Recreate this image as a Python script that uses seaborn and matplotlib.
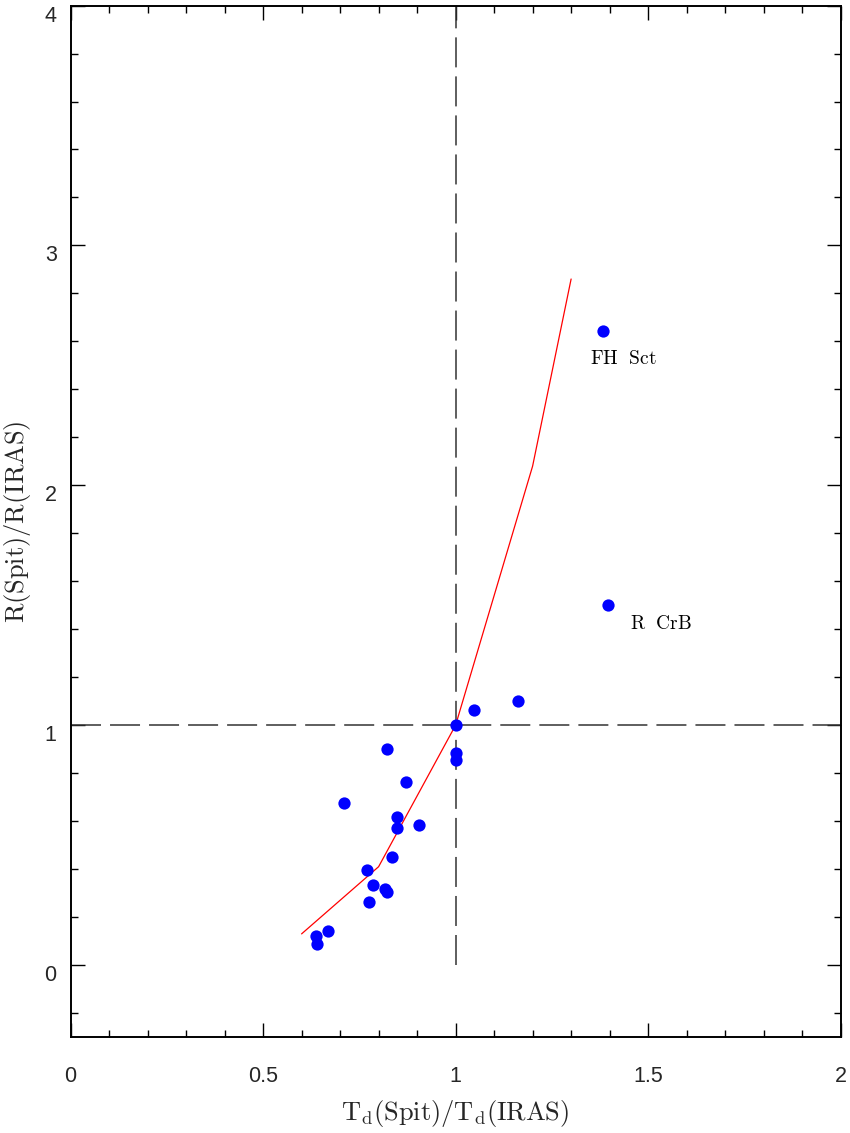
import matplotlib
matplotlib.use("Agg")
import matplotlib.pyplot as plt
import matplotlib.transforms as mtransforms
from matplotlib.ticker import MultipleLocator
import numpy as np
import pandas as pd
import seaborn as sns

# Dust temperature ratio vs. radius ratio (Spitzer / IRAS)
td_ratio = [1.000, 1.048, 0.823, 1.000, 1.000, 0.871, 0.711, 0.848, 0.847,
            0.905, 0.835, 0.769, 0.785, 0.817, 0.821, 0.776, 0.669, 0.637,
            0.640, 1.383, 1.397, 1.161]
r_ratio = [1.000, 1.064, 0.899, 0.882, 0.856, 0.762, 0.677, 0.618, 0.573,
           0.583, 0.451, 0.395, 0.333, 0.318, 0.305, 0.262, 0.142, 0.121,
           0.089, 2.642, 1.500, 1.102]

# Model relation
model_td = [0.60, 0.80, 1.00, 1.20, 1.30]
model_r = [0.13, 0.41, 1.00, 2.08, 2.86]

# Named objects
star_names = ["FH Sct", "R CrB"]
star_label_x = [1.350, 1.452]
star_label_y = [2.525, 1.423]

ref_td = 1.0
ref_r = 1.0

sns.set_style("ticks")
plt.rcParams["font.family"] = ["Liberation Sans", "DejaVu Sans"]
plt.rcParams["mathtext.fontset"] = "cm"
plt.rcParams["lines.scale_dashes"] = False

fig = plt.figure(figsize=(8.5, 11.33), dpi=100)
ax = fig.add_axes([0.083, 0.0847, 0.906, 0.9104])

points = pd.DataFrame({"td": td_ratio, "r": r_ratio})
model = pd.DataFrame({"td": model_td, "r": model_r})

# Reference lines at unity
dash = (21.6, 6.5)
ax.vlines(ref_td, 0, 4, colors="#333333", linewidth=1.1, linestyles=[(0, dash)], zorder=1)
ax.hlines(ref_r, 0, 2, colors="#333333", linewidth=1.1, linestyles=[(0, dash)], zorder=1)

sns.lineplot(data=model, x="td", y="r", sort=False, estimator=None,
             color="#ff0000", linewidth=0.9, ax=ax, zorder=2)
sns.scatterplot(data=points, x="td", y="r", color="#0000ff", s=78,
                linewidth=0, ax=ax, zorder=3)

for name, lx, ly in zip(star_names, star_label_x, star_label_y):
    ax.text(lx, ly, r"$\mathrm{" + name.replace(" ", r"\ \ ") + "}$",
            fontsize=14, ha="left", va="center", color="black")

ax.set_xlim(0, 2)
ax.set_ylim(-0.3, 4)

ax.xaxis.set_major_locator(MultipleLocator(0.5))
ax.xaxis.set_minor_locator(MultipleLocator(0.1))
ax.yaxis.set_major_locator(MultipleLocator(1))
ax.yaxis.set_minor_locator(MultipleLocator(0.2))
ax.set_xticks([0, 0.5, 1, 1.5, 2])
ax.set_xticklabels(["0", "0.5", "1", "1.5", "2"])
ax.set_yticks([0, 1, 2, 3, 4])
ax.set_yticklabels(["0", "1", "2", "3", "4"])

ax.tick_params(which="both", direction="in", top=True, right=True,
               width=1.0, color="black")
ax.tick_params(which="major", length=10)
ax.tick_params(which="minor", length=5)
ax.tick_params(axis="x", which="major", pad=21, labelsize=15.5)
ax.tick_params(axis="y", which="major", pad=10, labelsize=15.5)

# Nudge y tick labels slightly below their ticks
offset = mtransforms.ScaledTranslation(0, -8 / 100, fig.dpi_scale_trans)
for lab in ax.get_yticklabels():
    lab.set_transform(lab.get_transform() + offset)

for sp in ax.spines.values():
    sp.set_visible(True)
    sp.set_linewidth(1.4)
    sp.set_color("black")

ax.set_xlabel(r"$\mathrm{T_d(Spit)/T_d(IRAS)}$", fontsize=19, labelpad=8)
ax.set_ylabel(r"$\mathrm{R(Spit)/R(IRAS)}$", fontsize=19, labelpad=8)

fig.savefig("out.png", dpi=100)
